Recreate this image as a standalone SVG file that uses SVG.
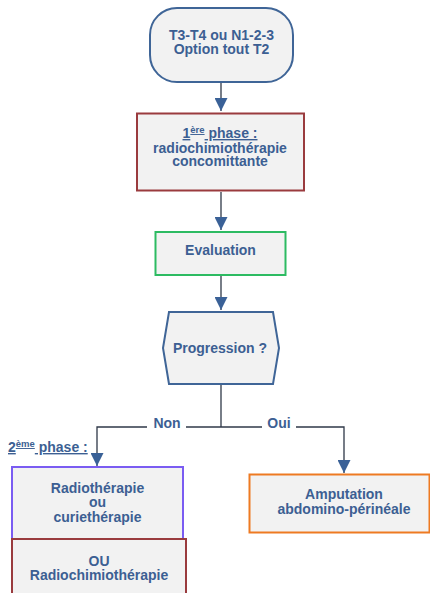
<svg xmlns="http://www.w3.org/2000/svg" width="430" height="593" viewBox="0 0 430 593">
  <style>
    .box { fill: #f2f2f2; stroke-width: 2; }
    .lbl { font-family: "Liberation Sans", Arial, sans-serif; font-weight: bold; font-size: 14px; fill: #3c5f93; text-anchor: middle; }
    .sup { font-size: 9.5px; }
    .wire { fill: none; stroke: #2f3848; stroke-width: 1.3; }
  </style>
  <defs>
    <marker id="arrow" markerWidth="14" markerHeight="13" refX="13" refY="6.5" orient="auto" markerUnits="userSpaceOnUse">
      <path d="M0,0 L13,6.5 L0,13 Z" fill="#3a6197"/>
    </marker>
  </defs>
  <rect width="430" height="593" fill="#ffffff"/>

  <!-- connectors -->
  <g id="connectors">
    <line class="wire" x1="221" y1="83" x2="221" y2="111" marker-end="url(#arrow)"/>
    <line class="wire" x1="221" y1="192" x2="221" y2="230" marker-end="url(#arrow)"/>
    <line class="wire" x1="221" y1="276" x2="221" y2="310" marker-end="url(#arrow)"/>
    <polyline class="wire" points="221,385 221,427"/>
    <polyline class="wire" points="147,427 97,427 97,466" marker-end="url(#arrow)"/>
    <line class="wire" x1="186" y1="427" x2="262" y2="427"/>
    <polyline class="wire" points="296,427 344,427 344,473" marker-end="url(#arrow)"/>
    <text class="lbl" x="167" y="428">Non</text>
    <text class="lbl" x="279" y="428">Oui</text>
  </g>

  <!-- start terminal -->
  <g id="start">
    <rect class="box" x="150" y="8" width="143" height="74" rx="27" ry="27" stroke="#3f6597"/>
    <text class="lbl" x="221.5" y="40">T3-T4 ou N1-2-3</text>
    <text class="lbl" x="221.5" y="54">Option tout T2</text>
  </g>

  <!-- phase 1 -->
  <g id="phase1">
    <rect class="box" x="137" y="113.5" width="167" height="77" stroke="#9a3b3e"/>
    <text class="lbl" x="220" y="138" text-decoration="underline">1<tspan class="sup" dy="-5">ère</tspan><tspan dy="5"> phase :</tspan></text>
    <text class="lbl" x="220" y="153">radiochimiothérapie</text>
    <text class="lbl" x="220" y="166">concomittante</text>
  </g>

  <!-- evaluation -->
  <g id="evaluation">
    <rect class="box" x="155.5" y="232" width="130" height="43" stroke="#2dbb62"/>
    <text class="lbl" x="220.5" y="255">Evaluation</text>
  </g>

  <!-- decision -->
  <g id="progression">
    <polygon class="box" points="169,312 273,312 279,348 273,384 169,384 163,348" stroke="#3f6597"/>
    <text class="lbl" x="220" y="353">Progression ?</text>
  </g>

  <!-- phase 2 heading -->
  <g id="phase2-title">
    <text class="lbl" x="8" y="452" style="text-anchor:start" text-decoration="underline">2<tspan class="sup" dy="-5">ème</tspan><tspan dy="5"> phase :</tspan></text>
  </g>

  <!-- radiotherapy option -->
  <g id="radiotherapie">
    <rect class="box" x="12" y="467" width="171" height="72" stroke="#7a5cf2"/>
    <text class="lbl" x="97.5" y="493">Radiothérapie</text>
    <text class="lbl" x="97.5" y="507">ou</text>
    <text class="lbl" x="97.5" y="522">curiethérapie</text>
  </g>

  <!-- chemoradiotherapy option -->
  <g id="radiochimio">
    <rect class="box" x="12" y="539" width="174" height="60" stroke="#9a3b3e"/>
    <text class="lbl" x="99" y="566">OU</text>
    <text class="lbl" x="99" y="580">Radiochimiothérapie</text>
  </g>

  <!-- surgery -->
  <g id="amputation">
    <rect class="box" x="249.5" y="474.5" width="180" height="58" stroke="#ee7a22"/>
    <text class="lbl" x="344" y="499">Amputation</text>
    <text class="lbl" x="344" y="514">abdomino-périnéale</text>
  </g>
</svg>
